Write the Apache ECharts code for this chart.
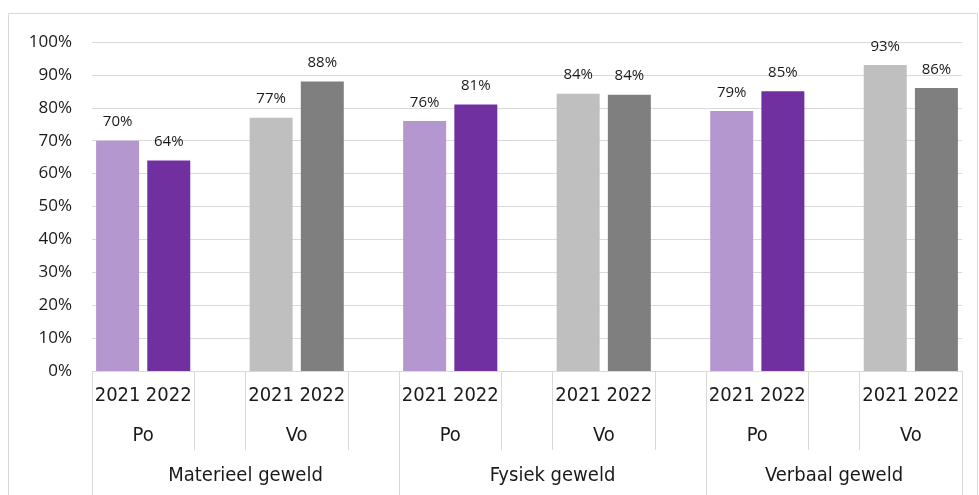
<!DOCTYPE html>
<html>
<head>
<meta charset="utf-8">
<script src="https://cdn.jsdelivr.net/npm/echarts@6/dist/echarts.min.js"></script>
<style>
  html, body { margin: 0; padding: 0; background: #fff; }
  #chart { width: 979px; height: 495px; }
</style>
</head>
<body>
<div id="chart"></div>
<script>
// ---- data ----
const groups = ['Materieel geweld', 'Fysiek geweld', 'Verbaal geweld'];
const schoolTypes = ['Po', 'Vo'];
const years = ['2021', '2022'];
const po2021 = [70, 76, 79];
const po2022 = [64, 81, 85];
const vo2021 = [77, 84.3, 93];
const vo2022 = [88, 84, 86];
const yMin = 0, yMax = 100, yStep = 10;

// ---- styles ----
const colors = {
  Po: ['#b597cf', '#7030a0'],
  Vo: ['#bfbfbf', '#7f7f7f']
};
const gridLeft = 92, gridRight = 17, gridTop = 42, gridBottom = 124;
const chartW = 979;

// ---- build categories ----
const valuesOf = { Po: [po2021, po2022], Vo: [vo2021, vo2022] };
const yearCats = [];   // labels for row 1
const barData = [];
const subLabels = [];  // row 2 (Po/Vo)
const groupLabels = []; // row 3
const subBounds = new Set();
const groupBounds = new Set();
const groupInfo = [];
groups.forEach((g, gi) => {
  const gStart = yearCats.length;
  groupBounds.add(gStart);
  schoolTypes.forEach((t, ti) => {
    const sStart = yearCats.length;
    subBounds.add(sStart);
    years.forEach((y, yi) => {
      yearCats.push(y);
      subLabels.push(yi === 0 ? t : '');
      const v = valuesOf[t][yi][gi];
      barData.push({ value: v, itemStyle: { color: colors[t][yi] } });
    });
    subBounds.add(yearCats.length);
    const last = gi === groups.length - 1 && ti === schoolTypes.length - 1;
    if (!last) {
      yearCats.push('');
      subLabels.push('');
      barData.push('-');
    }
  });
  groupInfo.push({ name: g, start: gStart, len: yearCats.length - gStart });
});
const nCats = yearCats.length;
const groupLabelArr = new Array(nCats).fill('');
const groupHalf = new Array(nCats).fill(false);
groupInfo.forEach(gr => {
  const mid = (gr.len - 1) / 2;
  const idx = gr.start + Math.floor(mid);
  groupLabelArr[idx] = gr.name;
  groupHalf[idx] = (mid - Math.floor(mid)) > 0;
});
const band = (chartW - gridLeft - gridRight) / nCats;

const xFont = "'DejaVu Sans Condensed', 'DejaVu Sans', sans-serif";
const xFontSize = 20;
const lineColor = '#d9d9d9';
const textColor = '#1a1a1a';

const chart = echarts.init(document.getElementById('chart'), null, { renderer: 'canvas' });
chart.setOption({
  animation: false,
  backgroundColor: '#ffffff',
  grid: { left: gridLeft, right: gridRight, top: gridTop, bottom: gridBottom, containLabel: false },
  graphic: [{
    type: 'rect',
    shape: { x: 8.5, y: 13.5, width: 969, height: 500 },
    style: { fill: 'none', stroke: lineColor, lineWidth: 1 },
    silent: true, z: -10
  }],
  yAxis: {
    type: 'value', min: yMin, max: yMax, interval: yStep,
    axisLine: { show: false }, axisTick: { show: false },
    axisLabel: { formatter: '{value}%', fontFamily: "'Open Sans', sans-serif", fontSize: 17, color: textColor, margin: 20 },
    splitLine: { lineStyle: { color: lineColor, width: 1 } }
  },
  xAxis: [
    {
      type: 'category', data: yearCats, position: 'bottom',
      axisLine: { show: true, lineStyle: { color: lineColor } },
      axisTick: { show: false },
      axisLabel: { interval: 0, fontFamily: xFont, fontSize: xFontSize, color: textColor, margin: 15 }
    },
    {
      type: 'category', data: subLabels, position: 'bottom', gridIndex: 0,
      axisLine: { show: false },
      axisTick: { show: true, length: 79, lineStyle: { color: lineColor },
        interval: (i) => subBounds.has(i) },
      axisLabel: {
        interval: 0, margin: 55,
        formatter: (v) => v ? '{h|' + v + '}' : '',
        rich: { h: { fontFamily: xFont, fontSize: xFontSize, color: textColor, padding: [0, 0, 0, band] } }
      }
    },
    {
      type: 'category', data: groupLabelArr, position: 'bottom', gridIndex: 0,
      axisLine: { show: false },
      axisTick: { show: true, length: 140, lineStyle: { color: lineColor },
        interval: (i) => groupBounds.has(i) },
      axisLabel: {
        interval: 0, margin: 95,
        formatter: (v, i) => v ? (groupHalf[i] ? '{h|' + v + '}' : '{n|' + v + '}') : '',
        rich: {
          h: { fontFamily: xFont, fontSize: xFontSize, color: textColor, padding: [0, 0, 0, band] },
          n: { fontFamily: xFont, fontSize: xFontSize, color: textColor }
        }
      }
    }
  ],
  series: [{
    type: 'bar', xAxisIndex: 0, data: barData, barWidth: '84%',
    label: {
      show: true, position: 'top', distance: 11,
      formatter: (p) => Math.round(p.value) + '%',
      fontFamily: "'Open Sans', sans-serif", fontSize: 15, color: textColor
    }
  }]
});
</script>
</body>
</html>
